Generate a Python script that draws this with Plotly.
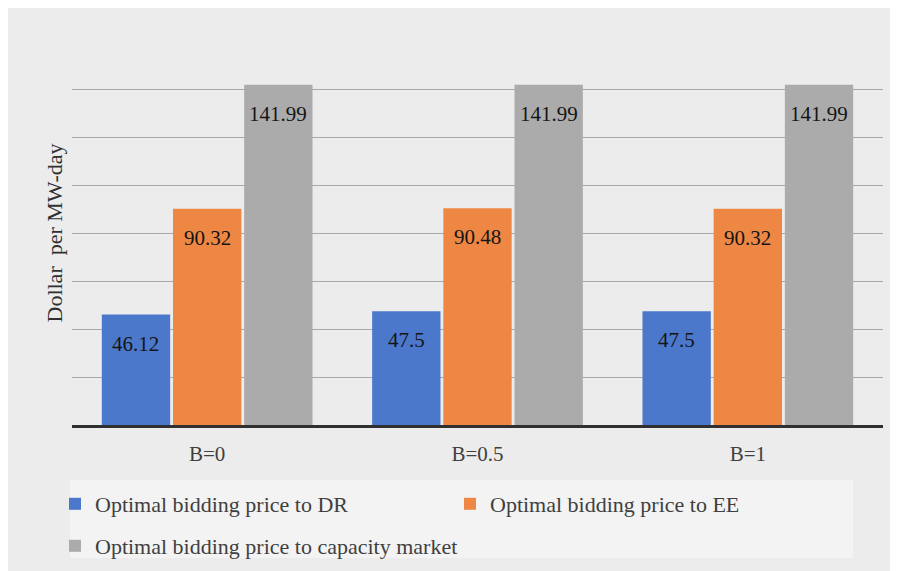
import plotly.graph_objects as go

categories = ["B=0", "B=0.5", "B=1"]
dr_values = [46.12, 47.5, 47.5]
ee_values = [90.32, 90.48, 90.32]
cap_values = [141.99, 141.99, 141.99]
series_names = [
    "Optimal bidding price to DR",
    "Optimal bidding price to EE",
    "Optimal bidding price to capacity market",
]
colors = ["#4C78CC", "#EE8743", "#ABABAB"]
legend_ids = ["legend", "legend", "legend2"]

FONT = "Liberation Serif"

W, H = 890, 563
ML, MR, MT, MB = 64, 15, 33, 146
BARGAP, GROUPGAP = 0.21, 0.04

fig = go.Figure()
all_vals = [dr_values, ee_values, cap_values]
for name, vals, col, lg in zip(series_names, all_vals, colors, legend_ids):
    fig.add_trace(go.Bar(
        x=categories, y=vals, name=name, legend=lg,
        marker=dict(color=col, line=dict(width=0)),
    ))

# value labels inside bars, a bit below the bar top
plot_w = W - ML - MR
plot_h = H - MT - MB
cat_w = plot_w / len(categories)
slot = cat_w * (1 - BARGAP) / len(all_vals)
for k, vals in enumerate(all_vals):
    off = (k - (len(all_vals) - 1) / 2) * slot
    for c, v in zip(categories, vals):
        fig.add_annotation(
            x=c, y=v, xref="x", yref="y", text=f"{v:g}",
            showarrow=False, xshift=off, yshift=-15, yanchor="top",
            font=dict(family=FONT, size=21, color="#151515"),
        )

# legend box
fig.add_shape(type="rect", xref="paper", yref="paper",
              x0=-2 / plot_w, x1=781 / plot_w,
              y0=-133 / plot_h, y1=-55 / plot_h,
              fillcolor="#f3f3f3", line=dict(width=0), layer="below")

leg_common = dict(
    orientation="h", xanchor="left", yanchor="middle",
    entrywidthmode="pixels",
    bgcolor="rgba(0,0,0,0)", font=dict(family=FONT, size=22, color="#404040"),
    itemwidth=30, tracegroupgap=0,
)
fig.update_layout(
    width=W, height=H,
    margin=dict(l=ML, r=MR, t=MT, b=MB, autoexpand=False),
    paper_bgcolor="#ececec",
    plot_bgcolor="rgba(0,0,0,0)",
    barmode="group", bargap=BARGAP, bargroupgap=GROUPGAP,
    font=dict(family=FONT, color="#404040", size=20),
    showlegend=True,
    legend=dict(x=-17 / plot_w, y=-79 / plot_h, entrywidth=350, **leg_common),
    legend2=dict(x=-17 / plot_w, y=-121 / plot_h, entrywidth=600, **leg_common),
)
fig.update_xaxes(
    showline=True, linecolor="#303030", linewidth=2.5,
    ticks="", ticklabelstandoff=8,
    tickfont=dict(family=FONT, size=21, color="#404040"),
    showgrid=False,
)
fig.update_yaxes(
    range=[0, 160.3], dtick=20, showticklabels=False, ticks="",
    showgrid=True, gridcolor="#a8a8a8", gridwidth=1,
    zeroline=False,
    title=dict(text="Dollar  per MW-day", standoff=2,
               font=dict(family=FONT, size=22, color="#303030")),
)

fig.write_html("out.html")
